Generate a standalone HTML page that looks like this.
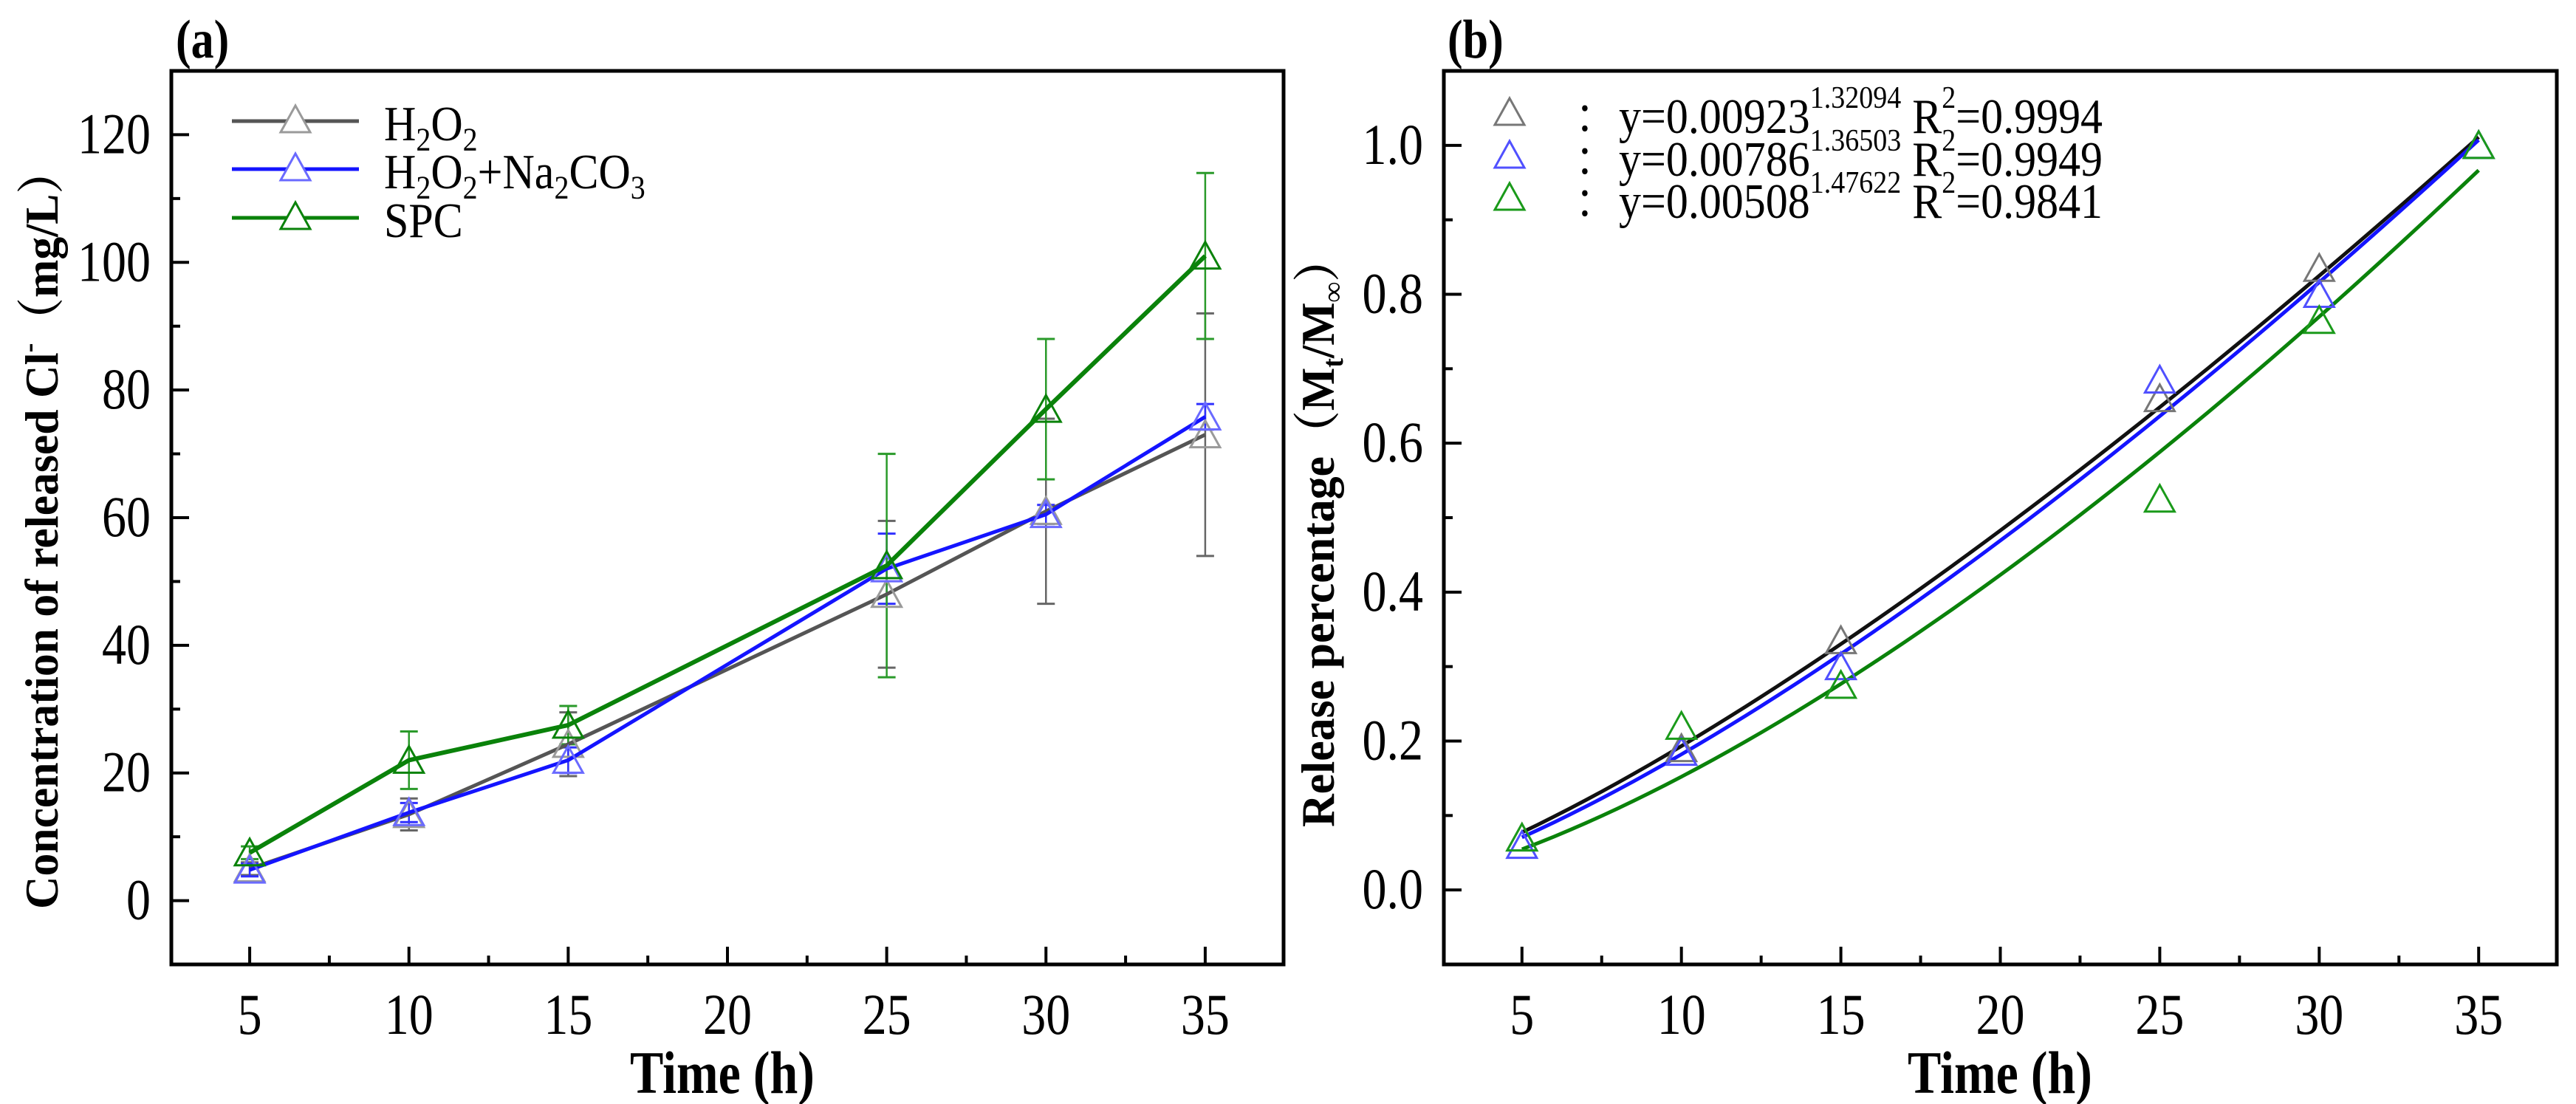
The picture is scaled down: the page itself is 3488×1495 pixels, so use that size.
<!DOCTYPE html>
<html><head><meta charset="utf-8"><style>
html,body{margin:0;padding:0;background:#fff;}
svg{display:block;}
text{font-family:"Liberation Serif","Noto Serif CJK SC",serif;}
</style></head>
<body>
<svg id="fig" xmlns="http://www.w3.org/2000/svg" width="3488" height="1495" viewBox="0 0 3488 1495">
<rect width="3488" height="1495" fill="#fff"/>
<g id="panelA"></g>
<g id="panelB"></g>
</svg>
<script>
// ---- Panel (a) data ----
const timesA = [5, 10, 15, 25, 30, 35];
const h2o2Vals = [5.0, 13.5, 24.5, 48.0, 61.0, 73.0];
const h2o2Err = [1.0, 2.5, 5.0, 11.5, 14.5, 19.0];
const naVals = [4.8, 13.8, 22.0, 52.0, 60.5, 75.8];
const naErr = [1.0, 1.5, 2.0, 5.5, 1.5, 2.0];
const spcVals = [7.5, 22.0, 27.5, 52.5, 77.0, 101.0];
const spcErr = [1.0, 4.5, 3.0, 17.5, 11.0, 13.0];
const yTicksA = [0, 20, 40, 60, 80, 100, 120];
const xTicks = [5, 10, 15, 20, 25, 30, 35];
// ---- Panel (b) data ----
const timesB = [5, 10, 15, 25, 30, 35];
const relH2o2 = [0.07, 0.19, 0.335, 0.66, 0.835, 1.0];
const relNa = [0.06, 0.185, 0.30, 0.685, 0.80, 1.0];
const relSpc = [0.07, 0.22, 0.275, 0.525, 0.765, 1.0];
const fitA = [0.00923, 0.00786, 0.00508];
const fitB = [1.32094, 1.36503, 1.47622];
const fitR2 = ["0.9994", "0.9949", "0.9841"];
const yTicksB = ["0.0", "0.2", "0.4", "0.6", "0.8", "1.0"];

const NS = "http://www.w3.org/2000/svg";
function mk(parent, tag, attrs) {
  const e = document.createElementNS(NS, tag);
  for (const k in attrs) e.setAttribute(k, attrs[k]);
  parent.appendChild(e);
  return e;
}
const GRAY = "#555555", BLUE = "#1414ff", GREEN = "#0a820a";

function axes(g, L, R, T, B, xd, yd, yMajor, yMinor, yLabels) {
  const sx = v => L + (v - xd[0]) / (xd[1] - xd[0]) * (R - L);
  const sy = v => B - (v - yd[0]) / (yd[1] - yd[0]) * (B - T);
  const frame = mk(g, "rect", {x: L, y: T, width: R - L, height: B - T, fill: "none", stroke: "#000", "stroke-width": 5});
  
  
  for (let i = 0; i < xTicks.length; i++) {
    const v = xTicks[i];
    const t = mk(g, "line", {x1: sx(v), x2: sx(v), y1: B, y2: B - 24, stroke: "#000", "stroke-width": 4});
    
    
    if (i < xTicks.length - 1) {
      mk(g, "line", {x1: sx(v + 2.5), x2: sx(v + 2.5), y1: B, y2: B - 12, stroke: "#000", "stroke-width": 4});
    }
    const lab = mk(g, "text", {transform: `translate(${sx(v)},1400) scale(1,1.18)`, "font-size": 66, "text-anchor": "middle"});
    lab.textContent = v;
    
    
  }
  yMinor.forEach(v => mk(g, "line", {x1: L, x2: L + 12, y1: sy(v), y2: sy(v), stroke: "#000", "stroke-width": 4}));
  yMajor.forEach((v, i) => {
    const t = mk(g, "line", {x1: L, x2: L + 24, y1: sy(v), y2: sy(v), stroke: "#000", "stroke-width": 4});
    
    
    const lab = mk(g, "text", {transform: `translate(${L - 28},${sy(v) + 25}) scale(1,1.18)`, "font-size": 66, "text-anchor": "end"});
    lab.textContent = yLabels[i];
    
    
  });
  return {sx, sy};
}
function tri(g, x, y, color, fill) {
  const w = 20, h = 17;
  const p = mk(g, "polygon", {points: `${x - w},${y + h} ${x + w},${y + h} ${x},${y - h - 2}`, fill: fill, stroke: color, "stroke-width": 3});
  
  
  return p;
}

// ===== Panel A =====
(function () {
  const g = document.getElementById("panelA");
  const L = 232, R = 1738, T = 96, B = 1306;
  const minor = [10, 30, 50, 70, 90, 110];
  const {sx, sy} = axes(g, L, R, T, B, [2.54, 37.46], [-10, 130], yTicksA, minor, yTicksA.map(String));
  const series = [
    {name: "h2o2", vals: h2o2Vals, err: h2o2Err, line: GRAY, mark: "#9a9a9a", errc: "#666"},
    {name: "h2o2-na2co3", vals: naVals, err: naErr, line: BLUE, mark: "#6a6aff", errc: "#3030ff"},
    {name: "spc", vals: spcVals, err: spcErr, line: GREEN, mark: GREEN, errc: "#2a9a2a"}
  ];
  series.forEach(s => {
    const eg = mk(g, "g", {});
    
    
    timesA.forEach((t, i) => {
      const x = sx(t), y1 = sy(s.vals[i] + s.err[i]), y2 = sy(s.vals[i] - s.err[i]);
      mk(eg, "line", {x1: x, x2: x, y1: y1, y2: y2, stroke: s.errc, "stroke-width": 2.5});
      mk(eg, "line", {x1: x - 12, x2: x + 12, y1: y1, y2: y1, stroke: s.errc, "stroke-width": 3});
      mk(eg, "line", {x1: x - 12, x2: x + 12, y1: y2, y2: y2, stroke: s.errc, "stroke-width": 3});
    });
  });
  series.forEach(s => {
    const pl = mk(g, "polyline", {points: timesA.map((t, i) => `${sx(t)},${sy(s.vals[i])}`).join(" "), fill: "none", stroke: s.line, "stroke-width": s.name === "spc" ? 6 : 5, "stroke-linejoin": "round"});
    
    
    timesA.forEach((t, i) => tri(g, sx(t), sy(s.vals[i]), s.mark, "none"));
  });
  const lg = mk(g, "g", {});
  
  
  const ly = [164, 229, 295];
  const sub = d => `<tspan font-size="40" baseline-shift="-12">${d}</tspan>`;
  const labels = [
    'H' + sub(2) + 'O' + sub(2),
    'H' + sub(2) + 'O' + sub(2) + '+Na' + sub(2) + 'CO' + sub(3),
    'SPC'];
  series.forEach((s, i) => {
    const e = mk(lg, "g", {});
    
    
    mk(e, "line", {x1: 314, x2: 486, y1: ly[i], y2: ly[i], stroke: s.line, "stroke-width": 5});
    tri(e, 400, ly[i] - 2, s.mark, "#fff");
    const t = mk(e, "text", {transform: `translate(520,${ly[i] + 26}) scale(1,1.12)`, "font-size": 60});
    t.innerHTML = labels[i];
  });
  const pa = mk(g, "text", {transform: "translate(238,78) scale(1,1.2)", "font-size": 62, "font-weight": "bold"});
  pa.textContent = "(a)";
  
  
  const xt = mk(g, "text", {transform: "translate(978,1480) scale(1,1.2)", "font-size": 68, "font-weight": "bold", "text-anchor": "middle"});
  xt.textContent = "Time (h)";
  
  
  const yt = mk(g, "text", {transform: "translate(78,716) rotate(-90)", "font-size": 64, "font-weight": "bold", "text-anchor": "middle", textLength: 1030, lengthAdjust: "spacingAndGlyphs"});
  yt.innerHTML = 'Concentration of released Cl<tspan font-size="40" baseline-shift="26">-</tspan>（mg/L）';
  
  
})();

// ===== Panel B =====
(function () {
  const g = document.getElementById("panelB");
  const L = 1955, R = 3462, T = 96, B = 1306;
  const major = yTicksB.map(Number);
  const minor = [0.1, 0.3, 0.5, 0.7, 0.9];
  const {sx, sy} = axes(g, L, R, T, B, [2.55, 37.45], [-0.1, 1.1], major, minor, yTicksB);
  const curveCols = ["#111111", BLUE, GREEN];
  const markCols = ["#777777", "#5050ff", "#1a9a1a"];
  const rel = [relH2o2, relNa, relSpc];
  const names = ["h2o2", "h2o2-na2co3", "spc"];
  for (let k = 0; k < 3; k++) {
    const pts = [];
    for (let t = 5; t <= 35.001; t += 0.5) pts.push(`${sx(t)},${sy(fitA[k] * Math.pow(t, fitB[k]))}`);
    const c = mk(g, "polyline", {points: pts.join(" "), fill: "none", stroke: curveCols[k], "stroke-width": 5});
    
    
  }
  for (let k = 0; k < 3; k++) {
    timesB.forEach((t, i) => tri(g, sx(t), sy(rel[k][i]), markCols[k], "none"));
  }
  const lg = mk(g, "g", {});
  
  
  const ly = [152, 210, 267];
  for (let k = 0; k < 3; k++) {
    const e = mk(lg, "g", {});
    
    
    tri(e, 2044, ly[k], markCols[k], "none");
    const c = mk(e, "text", {transform: `translate(2132,${ly[k] + 28}) scale(1,1.12)`, "font-size": 60});
    c.textContent = "：";
    const t = mk(e, "text", {transform: `translate(2192,${ly[k] + 28}) scale(1,1.12)`, "font-size": 60});
    t.innerHTML = `y=${fitA[k].toFixed(5)}<tspan font-size="38" baseline-shift="30">${fitB[k].toFixed(5)}</tspan> R<tspan font-size="38" baseline-shift="30">2</tspan>=${fitR2[k]}`;
  }
  const pb = mk(g, "text", {transform: "translate(1960,78) scale(1,1.2)", "font-size": 62, "font-weight": "bold"});
  pb.textContent = "(b)";
  
  
  const xt = mk(g, "text", {transform: "translate(2708,1480) scale(1,1.2)", "font-size": 68, "font-weight": "bold", "text-anchor": "middle"});
  xt.textContent = "Time (h)";
  
  
  const yt = mk(g, "text", {transform: "translate(1806,720) rotate(-90)", "font-size": 64, "font-weight": "bold", "text-anchor": "middle", textLength: 800, lengthAdjust: "spacingAndGlyphs"});
  yt.innerHTML = 'Release percentage（M<tspan font-size="40" baseline-shift="-12">t</tspan>/M<tspan font-size="40" baseline-shift="-12">∞</tspan>）';
  
  
})();
</script>
</body></html>
